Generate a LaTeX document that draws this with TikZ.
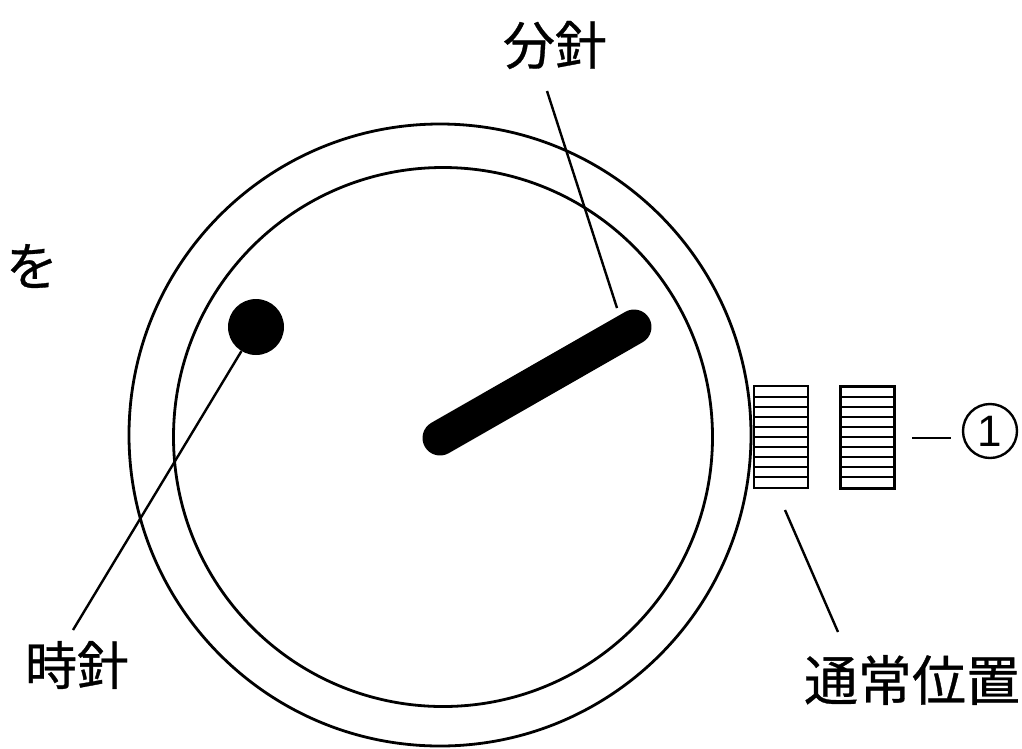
\documentclass[tikz,border=0pt]{standalone}
\usepackage{fontspec}
\setmainfont[FakeBold=0.6]{Noto Sans CJK JP}
\setsansfont{Liberation Sans}
\tikzset{
	lbl/.style = {inner sep=0pt, font=\fontsize{52}{52}\selectfont},
	leader/.style = {line width=2.4pt},
	rim/.style = {draw, line width=2.8pt},
	crown/.style = {draw, line width=2.2pt, minimum width=54pt, minimum height=102pt, inner sep=0pt},
	ridge/.style = {line width=2pt},
}
\begin{document}
\begin{tikzpicture}[x=1pt, y=-1pt]
	\useasboundingbox (0,0) rectangle (1022,748);
	% dial
	\node[rim, circle, minimum size=622pt, inner sep=0pt] (outer) at (440,435) {};
	\node[rim, circle, minimum size=539pt, inner sep=0pt] (inner) at (443,437) {};
	% hands
	\draw[line width=35pt, line cap=round] (440,438) -- (634,327);
	\node[circle, fill=black, minimum size=56pt, inner sep=0pt] (hour) at (256,327) {};
	\coordinate (minute) at (617,308);
	% crown
	\node[crown] (crownA) at (781,437) {};
	\node[crown, line width=3pt] (crownB) at (867,437) {};
	\foreach \y in {397,407,...,477} {
		\draw[ridge] (754,\y) -- (808,\y);
		\draw[ridge] (840,\y) -- (894,\y);
	}
	% labels
	\node[lbl] (lblMinute) at (555,45) {分針};
	\node[lbl] (lblHour) at (77,665) {時針};
	\node[lbl, font=\fontsize{54}{54}\selectfont] (lblNormal) at (912,680) {通常位置};
	\node[lbl] (lblWo) at (32,266) {を};
	\node[draw, circle, line width=2.4pt, minimum size=54pt, inner sep=0pt, font=\sffamily\fontsize{44}{44}\selectfont] (lblOne) at (990,431) {1};
	% leaders
	\coordinate (mTop) at (547,91);
	\coordinate (hEnd) at (73,630);
	\coordinate (nTop) at (785,510);
	\coordinate (nEnd) at (838,632);
	\coordinate (oneA) at (912,438);
	\coordinate (oneB) at (951,438);
	\draw[leader] (mTop) -- (minute);
	\draw[leader] (hEnd) -- (hour);
	\draw[leader] (nTop) -- (nEnd);
	\draw[leader] (oneA) -- (oneB);
\end{tikzpicture}
\end{document}
